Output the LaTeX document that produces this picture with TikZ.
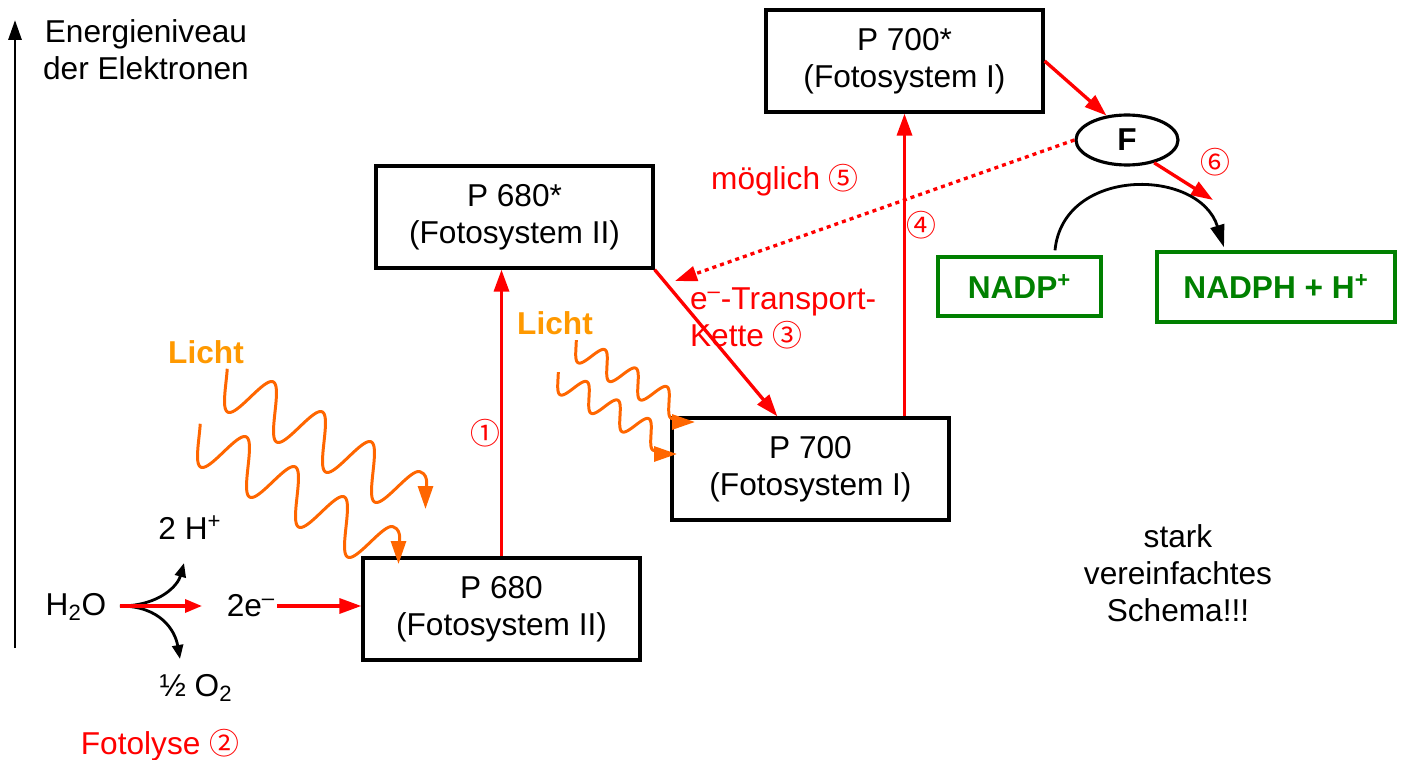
\documentclass[tikz,border=0pt]{standalone}
\usepackage{fontspec}
\setmainfont{Liberation Sans}
\newfontfamily\circfont{Noto Sans CJK SC}
\usepackage{tikz}
\usetikzlibrary{
  arrows.meta,
  shapes.geometric,
  positioning,
  calc
}
\definecolor{phRed}{HTML}{FF0000}
\definecolor{phWave}{HTML}{FF6600}
\definecolor{phLicht}{HTML}{FF9900}
\definecolor{phGreen}{HTML}{008000}
\newcommand{\bigtxt}{\fontsize{18}{21}\selectfont}
\newcommand{\circnum}[1]{{\circfont\fontsize{17}{18}\selectfont #1}}
\tikzset{
  psbox/.style={
    draw, line width=1.9pt, minimum width=5.54cm, minimum height=2.04cm,
    font=\bigtxt, align=center, inner sep=0pt
  },
  prodbox/.style={draw=phGreen, line width=1.9pt, text=phGreen, font=\bigtxt\bfseries, inner sep=0pt},
  ferredox/.style={draw, ellipse, line width=1.8pt, minimum width=2.04cm, minimum height=1cm, font=\bigtxt\bfseries, inner sep=0pt},
  lbl/.style={font=\bigtxt, align=center, inner sep=1pt},
  redlbl/.style={lbl, text=phRed},
  lichtlbl/.style={font=\bigtxt\bfseries, text=phLicht, inner sep=1pt},
  eflow/.style={-{Triangle[length=0.44cm, width=0.3cm]}, line width=1.9pt, phRed},
  maybeflow/.style={eflow, dash pattern=on 2.3pt off 2.3pt},
  splitflow/.style={-{Triangle[length=0.28cm, width=0.22cm]}, line width=1.6pt},
  cycleflow/.style={-{Triangle[length=0.45cm, width=0.28cm]}, line width=1.6pt},
  wave/.style={-{Triangle[length=0.46cm, width=0.3cm]}, line width=1.7pt, phWave, line join=round},
  axisline/.style={-{Triangle[length=0.4cm, width=0.26cm]}, line width=1.7pt}
}

\begin{document}
\begin{tikzpicture}[x=0.02cm, y=-0.02cm]
  \useasboundingbox (0,0) rectangle (1401,760);

  % energy axis
  \coordinate (axlo) at (15,648);
  \coordinate (axhi) at (15,20);
  \draw[axisline] (axlo) -- (axhi);
  \node[lbl] (axlbl) at (146,50) {Energieniveau\\der Elektronen};

  % photosystems
  \node[psbox] (p680) at (501.5,609) {P 680\\(Fotosystem II)};
  \node[psbox] (p680s) at (514.5,217) {P 680*\\(Fotosystem II)};
  \node[psbox] (p700) at (810.5,469) {P 700\\(Fotosystem I)};
  \node[psbox] (p700s) at (904.5,61) {P 700*\\(Fotosystem I)};

  % ferredoxin and NADP
  \node[ferredox] (f) at (1127,140) {F};
  \node[prodbox, minimum width=3.26cm, minimum height=1.18cm] (nadp) at (1019.5,286.5) {NADP\textsuperscript{+}};
  \node[prodbox, minimum width=4.76cm, minimum height=1.4cm] (nadph) at (1276,287) {NADPH + H\textsuperscript{+}};

  % photolysis
  \node[lbl] (h2o) at (76,607) {H\textsubscript{2}O};
  \node[lbl] (e2) at (251,606) {2e\textsuperscript{–}};
  \node[lbl] (hplus) at (190,528) {2 H\textsuperscript{+}};
  \node[lbl] (o2) at (196,688) {½ O\textsubscript{2}};
  \node[redlbl] (fotolyse) at (160,745) {Fotolyse \circnum{②}};
  \coordinate (split) at (120,606);
  \coordinate (hup) at (184,563);
  \coordinate (odown) at (180,659);
  \coordinate (etip) at (202,606);
  \draw[splitflow] (split) .. controls (160,606) and (178,585) .. (hup);
  \draw[splitflow] (split) .. controls (160,606) and (175,630) .. (odown);
  \draw[eflow, -{Triangle[length=0.34cm, width=0.26cm]}] (split) -- (etip);
  \draw[eflow] (e2.east) -- (e2.east -| p680.west);

  % labels
  \node[lichtlbl] (licht1) at (206,352) {Licht};
  \node[lichtlbl] (licht2) at (555,323) {Licht};
  \node[redlbl] (n1) at (485,433) {\circnum{①}};
  \node[redlbl, align=left, anchor=west] (etlbl) at (688,318) {e\textsuperscript{–}-Transport-\\Kette \circnum{③}};
  \node[redlbl] (n4) at (921,225) {\circnum{④}};
  \node[redlbl] (mlbl) at (785,180) {möglich \circnum{⑤}};
  \node[redlbl] (n6) at (1215,162) {\circnum{⑥}};
  \node[lbl] (note) at (1178,573) {stark\\vereinfachtes\\Schema!!!};

  % electron flow
  \draw[eflow] (p680.north) -- (p680.north |- p680s.south);
  \draw[eflow] (p680s.south east) -- ($(p700.north west)+(107,0)$);
  \draw[eflow] (p700s.south |- p700.north) -- (p700s.south);
  \draw[eflow] (p700s.east) -- (f.130);
  \coordinate (c6) at (1213,200);
  \draw[eflow] (f.-40) -- (c6);
  \coordinate (dotend) at (675,281);
  \draw[maybeflow] (f.west) -- (dotend);
  \draw[cycleflow] ($(nadp.north)+(35.5,-5)$) .. controls +(8,-84) and +(-25,-80) .. ($(nadph.north)+(-52,-3)$);

  % light
  \coordinate (w1a) at (226,382);
  \coordinate (w1b) at (199,437);
  \coordinate (w2a) at (576,347);
  \coordinate (w2b) at (558,379);
  \foreach \w in {w1a,w1b} {
    \begin{scope}[shift={(\w)}]
      \draw[wave] plot[domain=-0.08:3.75, samples=160] ({49*\x-10.75*sin(360*\x)}, {30*\x+22.5*sin(360*\x)})
        .. controls +(10,3) and +(0,-16) .. (199.5,127);
    \end{scope}
  }
  \foreach \w in {w2a,w2b} {
    \begin{scope}[shift={(\w)}]
      \draw[wave] plot[domain=-0.08:3.25, samples=130] ({31*\x-5.75*sin(360*\x)}, {18.5*\x+11.1*sin(360*\x)})
        .. controls +(6,2) and +(-14,0) .. (119,75);
    \end{scope}
  }
\end{tikzpicture}
\end{document}
